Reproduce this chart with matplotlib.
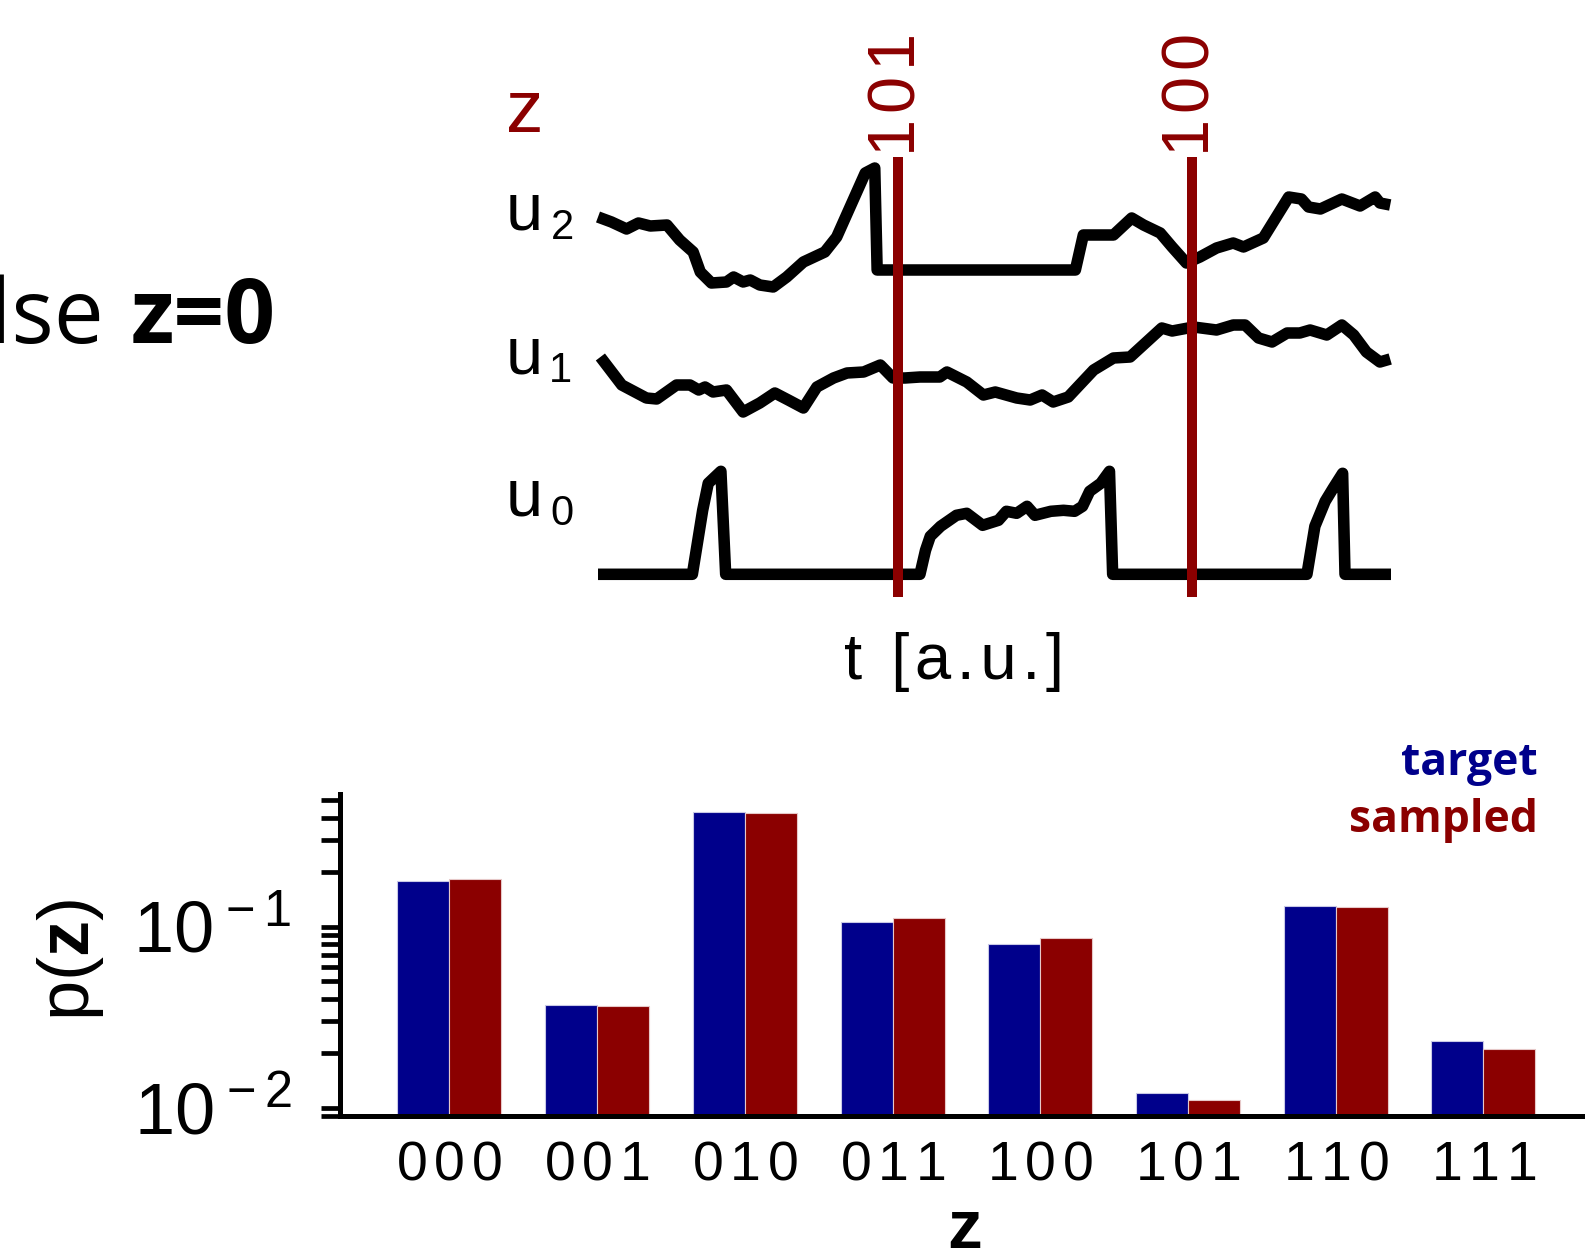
import numpy as np
import matplotlib
matplotlib.use("Agg")
import matplotlib.pyplot as plt
from matplotlib.ticker import LogLocator, NullFormatter, FuncFormatter

plt.rcParams["font.family"] = ["Liberation Sans", "DejaVu Sans"]
plt.rcParams["mathtext.fontset"] = "custom"
plt.rcParams["mathtext.rm"] = "Liberation Sans"
plt.rcParams["mathtext.it"] = "Liberation Sans:italic"
plt.rcParams["mathtext.bf"] = "Liberation Sans:bold"

W, H = 1585, 1252          # output size in px (dpi 100)
NAVY = "#00008b"
DRED = "#8b0000"
HS = "\u200a"              # hair space

# ---------------- bar chart: p(z) ----------------
states = ["000", "001", "010", "011", "100", "101", "110", "111"]
p_target = [0.179, 0.0367, 0.432, 0.106, 0.080, 0.0120, 0.130, 0.0234]
p_sampled = [0.182, 0.0364, 0.425, 0.112, 0.087, 0.0110, 0.128, 0.0210]

# ---------------- traces (t in a.u., u relative to each lane base) ----------------
t_u2 = [0.00, 0.17, 0.36, 0.51, 0.66, 0.87, 1.03, 1.20, 1.29, 1.43, 1.62, 1.71, 1.83,
        1.92, 2.04, 2.21, 2.38, 2.59, 2.86, 3.01, 3.37, 3.49, 3.52, 6.02, 6.12, 6.50,
        6.73, 6.88, 7.09, 7.24, 7.42, 7.59, 7.80, 8.01, 8.14, 8.39, 8.71, 8.87, 8.96,
        9.11, 9.38, 9.61, 9.80, 9.86, 9.99]
u2 = [0.53, 0.48, 0.41, 0.47, 0.44, 0.45, 0.30, 0.18, -0.02, -0.13, -0.12, -0.07, -0.12,
      -0.10, -0.15, -0.17, -0.07, 0.08, 0.18, 0.33, 0.97, 1.02, 0.00, 0.00, 0.35, 0.35,
      0.52, 0.45, 0.37, 0.23, 0.07, 0.13, 0.22, 0.27, 0.23, 0.32, 0.73, 0.71, 0.63,
      0.61, 0.71, 0.64, 0.73, 0.67, 0.65]

t_u1 = [0.03, 0.30, 0.61, 0.74, 0.99, 1.16, 1.27, 1.35, 1.45, 1.62, 1.83, 2.04, 2.23,
        2.40, 2.59, 2.76, 2.97, 3.14, 3.35, 3.56, 3.72, 3.87, 4.06, 4.31, 4.40, 4.65,
        4.86, 5.01, 5.28, 5.45, 5.60, 5.74, 5.93, 6.25, 6.50, 6.71, 7.11, 7.24, 7.51,
        7.80, 8.01, 8.16, 8.33, 8.50, 8.69, 8.85, 8.98, 9.19, 9.38, 9.53, 9.69, 9.86, 9.99]
u1 = [0.43, 0.15, 0.02, 0.01, 0.15, 0.15, 0.10, 0.13, 0.08, 0.10, -0.12, -0.03, 0.07,
      0.00, -0.08, 0.13, 0.22, 0.27, 0.28, 0.35, 0.22, 0.22, 0.23, 0.23, 0.28, 0.18,
      0.05, 0.08, 0.02, 0.00, 0.05, -0.02, 0.03, 0.30, 0.42, 0.43, 0.72, 0.69, 0.73,
      0.70, 0.75, 0.75, 0.62, 0.58, 0.67, 0.67, 0.70, 0.65, 0.75, 0.65, 0.48, 0.38, 0.41]

t_u0 = [0.00, 1.19, 1.32, 1.39, 1.55, 1.61, 4.06, 4.13, 4.19, 4.32, 4.52, 4.65, 4.85,
        5.05, 5.15, 5.28, 5.41, 5.51, 5.71, 5.87, 6.01, 6.11, 6.20, 6.34, 6.45, 6.49,
        8.94, 9.04, 9.17, 9.27, 9.39, 9.42, 10.0]
u0 = [0.00, 0.00, 0.64, 0.91, 1.03, 0.00, 0.00, 0.24, 0.38, 0.48, 0.59, 0.61, 0.49,
      0.54, 0.63, 0.61, 0.68, 0.59, 0.63, 0.64, 0.63, 0.68, 0.83, 0.91, 1.03, 0.00,
      0.00, 0.48, 0.73, 0.86, 1.01, 0.00, 0.00]

spike_t = [3.78, 7.49]
spike_z = ["101", "100"]


def fx(x):
    return x / W


def fy(y):
    return 1 - y / H


def spaced(s, gap):
    # letter-spaced digits, as in the original labels
    return r"$\mathdefault{" + (r"\hspace{%g}" % gap).join(s) + "}$"


fig = plt.figure(figsize=(W / 100, H / 100), dpi=100, facecolor="white")

# ---------------- top panel: u traces ----------------
LANE = {"u0": 0.0, "u1": 1.743, "u2": 3.043}
ax_t = fig.add_axes([fx(598), fy(597), (1391 - 598) / W, 440 / H])
ax_t.set_xlim(0, 10)
ax_t.set_ylim(-0.227, 4.173)
ax_t.axis("off")
for t, u, key in [(t_u2, u2, "u2"), (t_u1, u1, "u1"), (t_u0, u0, "u0")]:
    ax_t.plot(t, np.asarray(u) + LANE[key], color="black", lw=8.3,
              solid_joinstyle="round", solid_capstyle="butt", clip_on=False, zorder=2)
for ts, lab in zip(spike_t, spike_z):
    ax_t.axvline(ts, color=DRED, lw=7.2, zorder=3)
    ax_t.text(ts, 4.173, spaced(lab, 0.11), rotation=90, ha="center", va="bottom",
              color=DRED, fontsize=48, clip_on=False)

# lane labels
fig.text(fx(506), fy(132), "z", color=DRED, fontsize=54, va="baseline")
for key, base, sub, sub_x, sub_base in [("u2", 230, "2", 551, 239),
                                        ("u1", 373, "1", 549, 382),
                                        ("u0", 515, "0", 550, 525)]:
    fig.text(fx(506), fy(base), "u", fontsize=48, va="baseline")
    fig.text(fx(sub_x), fy(sub_base), sub, fontsize=30, va="baseline")
fig.text(fx(954), fy(679), HS.join("t") + HS + " " + HS + HS.join("[a.u.]"),
         fontsize=47, ha="center", va="baseline")

# cropped slide text on the left
fig.text(fx(104), fy(343), "else", fontsize=64, family="Open Sans", va="baseline", ha="right")
fig.text(fx(131), fy(343), "z=0", fontsize=64, family="Open Sans", weight="bold",
         va="baseline")

# ---------------- bottom panel: p(z) ----------------
ax = fig.add_axes([fx(340), fy(1116), (W - 340) / W, (1116 - 794) / H])
x = np.arange(len(states))
bw = 0.352
ax.bar(x - bw / 2, p_target, bw, color=NAVY, edgecolor="#c8c8e6", lw=0.8)
ax.bar(x + bw / 2, p_sampled, bw, color=DRED, edgecolor="#e6c8c8", lw=0.8)
ax.set_yscale("log")
ax.set_ylim(0.00898, 0.54)
ax.set_xlim(-0.741, 7.688)
ax.yaxis.set_major_formatter(FuncFormatter(
    lambda v, pos: r"$\mathdefault{10^{\hspace{0.08}%d}}$" % round(np.log10(v))))
ax.yaxis.set_minor_locator(LogLocator(base=10, subs=np.arange(2, 10)))
ax.yaxis.set_minor_formatter(NullFormatter())
ax.set_xticks(x)
ax.set_xticklabels([spaced(s, 0.15) for s in states], fontsize=40)
ax.tick_params(axis="x", length=0, pad=17)
ax.tick_params(axis="y", which="both", direction="out", length=13.7, width=3.4,
               labelsize=52, pad=21)
for side in ["top", "right"]:
    ax.spines[side].set_visible(False)
for side in ["left", "bottom"]:
    ax.spines[side].set_linewidth(3.6)
ax.patch.set_alpha(0)

fig.text(fx(71), fy(960), r"p($\mathbf{z}$)", rotation=90, fontsize=52,
         ha="center", va="center")
fig.text(fx(965), fy(1248), "z", fontsize=50, weight="bold", ha="center", va="baseline")
fig.text(fx(1538), fy(775), "target", fontsize=32, family="Open Sans", weight="bold",
         color=NAVY, ha="right", va="baseline")
fig.text(fx(1538), fy(832), "sampled", fontsize=32, family="Open Sans", weight="bold",
         color=DRED, ha="right", va="baseline")

fig.savefig("out.png", dpi=100, facecolor="white")
